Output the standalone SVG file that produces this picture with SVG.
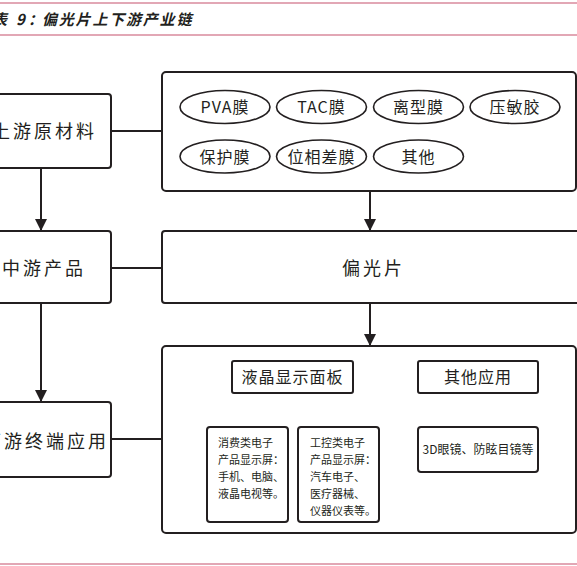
<svg xmlns="http://www.w3.org/2000/svg" width="577" height="566" viewBox="0 0 577 566">
<style>
.box{fill:#fff;stroke:#231f20;stroke-width:2}
.ell{fill:#fff;stroke:#231f20;stroke-width:1.6}
.ln{fill:none;stroke:#231f20;stroke-width:2}
.sl{fill:none;stroke:#231f20;stroke-width:1.5}
.t{font-family:"Noto Sans CJK SC","Liberation Sans",sans-serif;fill:#231f20}
.big{font-size:18px;letter-spacing:3px}
.mid{font-size:16px;letter-spacing:1px;text-anchor:middle}
.sm{font-size:11px}
.pink{stroke:#d98a9c;stroke-width:1.6}
</style>
<defs>
<marker id="ah" markerUnits="userSpaceOnUse" markerWidth="12" markerHeight="13" refX="12" refY="6" orient="auto">
<path d="M0,0 L12,6 L0,12 Z" fill="#231f20"/>
</marker>
<marker id="as" markerUnits="userSpaceOnUse" markerWidth="9" markerHeight="9" refX="8" refY="4" orient="auto">
<path d="M0,0 L8,4 L0,8 Z" fill="#231f20"/>
</marker>
</defs>
<rect width="577" height="566" fill="#fff"/>
<g id="header">
<line class="pink" x1="0" y1="3" x2="577" y2="3"/>
<line class="pink" x1="0" y1="35" x2="577" y2="35"/>
<text class="t" y="25" font-size="15" font-weight="bold" font-style="italic"><tspan x="-8">表</tspan><tspan x="16">9</tspan><tspan x="28">：</tspan><tspan x="42" letter-spacing="1.8">偏光片上下游产业链</tspan></text>
<line class="pink" x1="0" y1="564" x2="577" y2="564"/>
</g>
<g id="connectors">
<line class="ln" x1="111" y1="131" x2="162" y2="131"/>
<line class="ln" x1="41" y1="168" x2="41" y2="231" marker-end="url(#ah)"/>
<line class="ln" x1="370" y1="191" x2="370" y2="231" marker-end="url(#ah)"/>
<line class="ln" x1="111" y1="268" x2="162" y2="268"/>
<line class="ln" x1="41" y1="303" x2="41" y2="402" marker-end="url(#ah)"/>
<line class="ln" x1="370" y1="303" x2="370" y2="346" marker-end="url(#ah)"/>
<line class="ln" x1="111" y1="439" x2="162" y2="439"/>
<polyline class="sl" points="293,393 293,408"/>
<line class="sl" x1="245" y1="408" x2="338" y2="408"/>
<line class="sl" x1="245" y1="408" x2="245" y2="427" marker-end="url(#as)"/>
<line class="sl" x1="338" y1="408" x2="338" y2="427" marker-end="url(#as)"/>
<line class="sl" x1="478" y1="393" x2="478" y2="427" marker-end="url(#as)"/>
</g>
<g id="upstream">
<rect class="box" x="-20" y="94" width="131" height="74" rx="3"/>
<text class="t big" x="-8" y="138">上游原材料</text>
</g>
<g id="materials">
<rect class="box" x="162" y="72" width="414" height="119" rx="4"/>
</g>
<g id="pva"><ellipse class="ell" cx="225" cy="107" rx="45" ry="16.5"/><text class="t mid" x="225" y="113">PVA膜</text></g>
<g id="tac"><ellipse class="ell" cx="321.5" cy="107" rx="45" ry="16.5"/><text class="t mid" x="321.5" y="113">TAC膜</text></g>
<g id="release"><ellipse class="ell" cx="418.5" cy="107" rx="45" ry="16.5"/><text class="t mid" x="418.5" y="113">离型膜</text></g>
<g id="psa"><ellipse class="ell" cx="515" cy="107" rx="45" ry="16.5"/><text class="t mid" x="515" y="113">压敏胶</text></g>
<g id="protect"><ellipse class="ell" cx="225" cy="156.5" rx="45" ry="16.5"/><text class="t mid" x="225" y="162.5">保护膜</text></g>
<g id="retarder"><ellipse class="ell" cx="321.5" cy="156.5" rx="45" ry="16.5"/><text class="t mid" x="321.5" y="162.5">位相差膜</text></g>
<g id="others"><ellipse class="ell" cx="418.5" cy="156.5" rx="45" ry="16.5"/><text class="t mid" x="418.5" y="162.5">其他</text></g>
<g id="midstream">
<rect class="box" x="-20" y="231" width="131" height="72" rx="3"/>
<text class="t big" x="2" y="275" letter-spacing="2.5">中游产品</text>
</g>
<g id="polarizer">
<rect class="box" x="162" y="231" width="420" height="72" rx="3"/>
<text class="t big" x="342" y="275" letter-spacing="2">偏光片</text>
</g>
<g id="downstream">
<rect class="box" x="-20" y="402" width="131" height="75" rx="3"/>
<text class="t big" x="-17" y="448" letter-spacing="2">下游终端应用</text>
</g>
<g id="applications">
<rect class="box" x="162" y="346" width="414" height="187" rx="4"/>
</g>
<g id="lcd">
<rect class="box" x="232" y="361" width="121" height="32" rx="2"/>
<text class="t mid" x="292.5" y="383" letter-spacing="1.5">液晶显示面板</text>
</g>
<g id="otherapp">
<rect class="box" x="418" y="361" width="120" height="32" rx="2"/>
<text class="t mid" x="478" y="383" letter-spacing="1.5">其他应用</text>
</g>
<g id="consumer">
<rect class="box" x="207" y="427" width="81" height="95" rx="3"/>
<text class="t sm" x="218"><tspan x="218" y="447">消费类电子</tspan><tspan x="218" y="464">产品显示屏：</tspan><tspan x="218" y="481">手机、电脑、</tspan><tspan x="218" y="498">液晶电视等。</tspan></text>
</g>
<g id="industrial">
<rect class="box" x="298" y="427" width="81" height="95" rx="3"/>
<text class="t sm" x="310"><tspan x="310" y="447">工控类电子</tspan><tspan x="310" y="464">产品显示屏：</tspan><tspan x="310" y="481">汽车电子、</tspan><tspan x="310" y="498">医疗器械、</tspan><tspan x="310" y="515">仪器仪表等。</tspan></text>
</g>
<g id="glasses">
<rect class="box" x="418" y="427" width="120" height="45" rx="3"/>
<text class="t" x="478" y="453.5" font-size="12" text-anchor="middle">3D眼镜、防眩目镜等</text>
</g>
</svg>
